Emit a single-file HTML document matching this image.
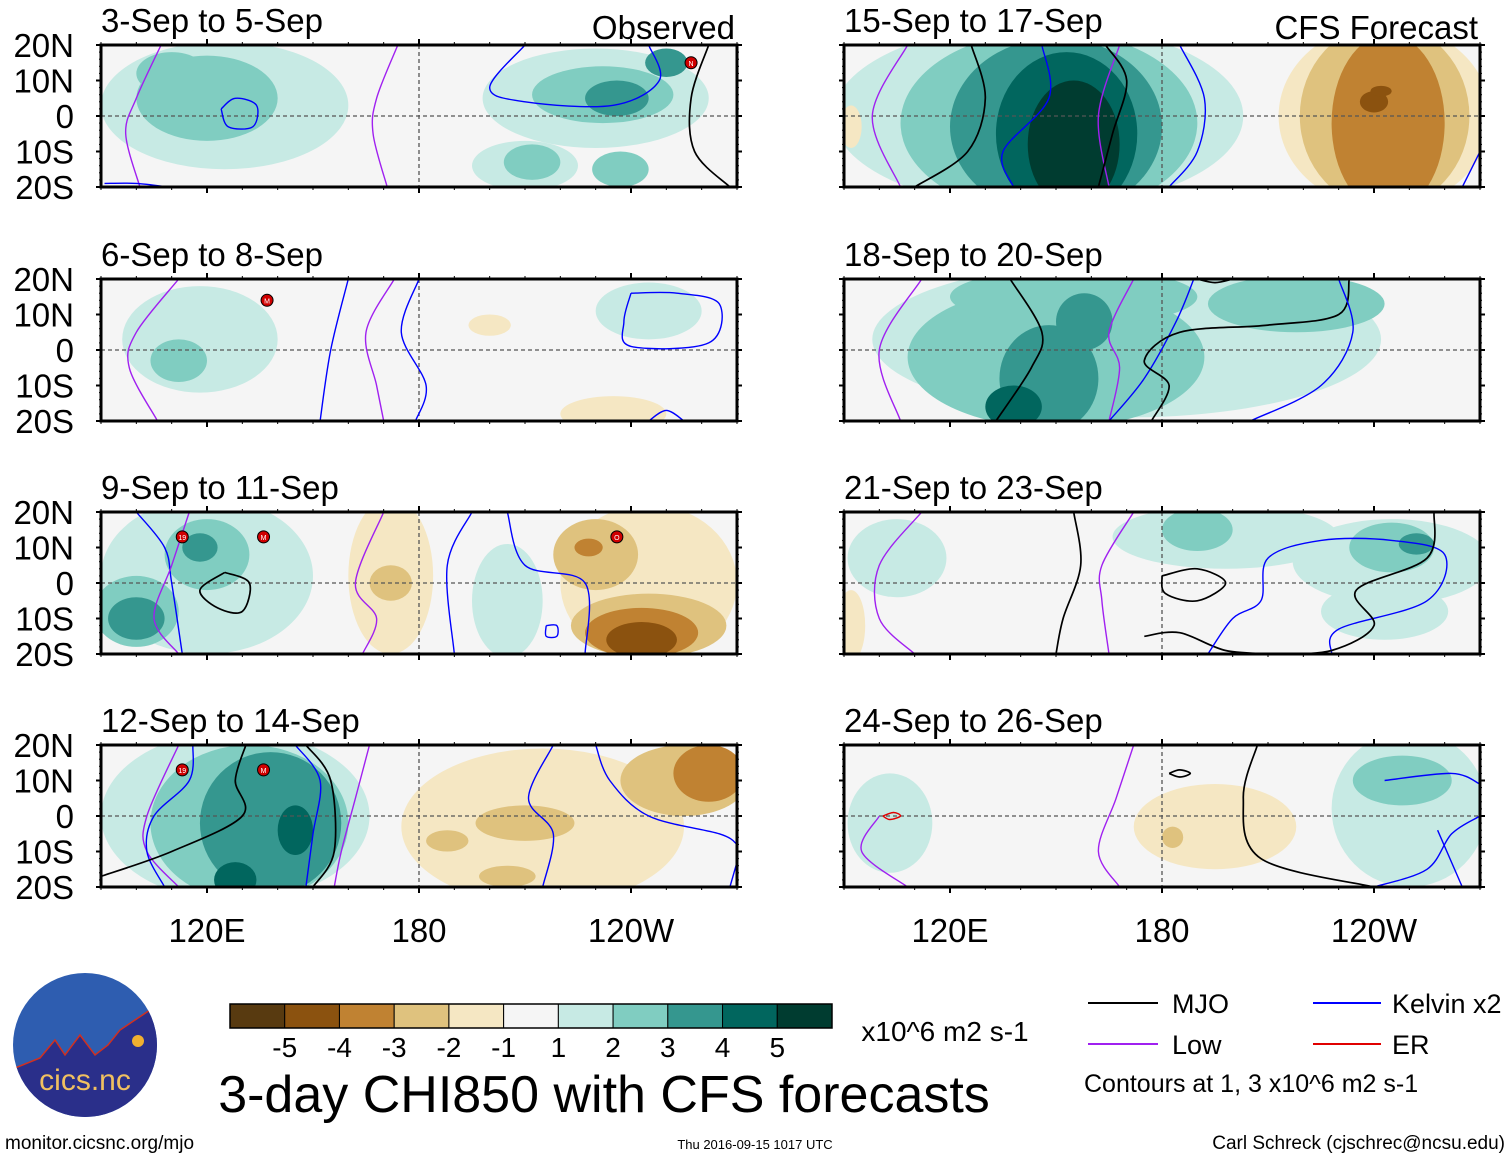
<!DOCTYPE html>
<html><head><meta charset="utf-8">
<style>
html,body{margin:0;padding:0;background:#fff;}
svg{display:block;font-family:"Liberation Sans",Arial,sans-serif;}
</style></head>
<body>
<svg id="fig" width="1510" height="1159" viewBox="0 0 1510 1159" xmlns="http://www.w3.org/2000/svg">
<defs><clipPath id="logoclip"><circle cx="85" cy="1045" r="72"/></clipPath></defs>
<g id="panels"></g>
<g id="legendarea">
  <g>
    <circle cx="85" cy="1045" r="72" fill="#2e5db0"/>
    <path clip-path="url(#logoclip)" d="M10,1070 L40,1058 L55,1040 L65,1055 L80,1035 L95,1055 L108,1045 L120,1030 L150,1010 L170,1000 L170,1130 L10,1130 Z" fill="#2a2f8a" stroke="#d03020" stroke-width="1.5"/>
    <circle cx="138" cy="1041" r="6" fill="#f0b030"/>
    <text x="85" y="1090" text-anchor="middle" font-size="30" fill="#f0c060">cics.nc</text>
  </g>
  <text x="5" y="1149" font-size="19">monitor.cicsnc.org/mjo</text>
  <text x="755" y="1149" font-size="13" text-anchor="middle">Thu 2016-09-15 1017 UTC</text>
  <text x="1505" y="1149" font-size="19" text-anchor="end">Carl Schreck (cjschrec@ncsu.edu)</text>
  <text x="604" y="1112" font-size="52" text-anchor="middle">3-day CHI850 with CFS forecasts</text>
  <text x="945" y="1041" font-size="28" text-anchor="middle">x10^6 m2 s-1</text>
  <g id="cbar"></g>
  <g>
    <line x1="1088" y1="1003" x2="1158" y2="1003" stroke="#000" stroke-width="2"/>
    <text x="1172" y="1013" font-size="27">MJO</text>
    <line x1="1313" y1="1003" x2="1381" y2="1003" stroke="#0000ff" stroke-width="2"/>
    <text x="1392" y="1013" font-size="27">Kelvin x2</text>
    <line x1="1088" y1="1044" x2="1158" y2="1044" stroke="#a020f0" stroke-width="2"/>
    <text x="1172" y="1054" font-size="27">Low</text>
    <line x1="1313" y1="1044" x2="1381" y2="1044" stroke="#e00000" stroke-width="2"/>
    <text x="1392" y="1054" font-size="27">ER</text>
    <text x="1084" y="1092" font-size="25">Contours at 1, 3 x10^6 m2 s-1</text>
  </g>
</g>
</svg>
<script>
const NS="http://www.w3.org/2000/svg";
const levelColors={"-6":"#583a10","-5":"#8b520f","-4":"#c08232","-3":"#dfc27e","-2":"#f5e7c3","1":"#c7eae4","2":"#80cdc1","3":"#35978f","4":"#01665e","5":"#003c30"};
const cbarColors=["#583a10","#8b520f","#c08232","#dfc27e","#f5e7c3","#f5f5f5","#c7eae4","#80cdc1","#35978f","#01665e","#003c30"];
const cbarLabels=["-5","-4","-3","-2","-1","1","2","3","4","5"];
const panelTitles=["3-Sep to 5-Sep","6-Sep to 8-Sep","9-Sep to 11-Sep","12-Sep to 14-Sep","15-Sep to 17-Sep","18-Sep to 20-Sep","21-Sep to 23-Sep","24-Sep to 26-Sep"];
const latTicks=["20N","10N","0","10S","20S"];
const lonTickLabels=["120E","180","120W"];
const lonTickValues=[120,180,240];
// blobs: [lon, lat, half-width deg, half-height deg, level]
const blobs1=[[125,3,35,18,1],[230,5,32,14,1],[210,-14,15,7,1],[120,5,20,12,2],[110,12,10,6,2],[232,6,20,8,2],[212,-13,8,5,2],[237,-15,8,5,2],[236,5,9,5,3],[250,15,6,4,3]];
const blobs2=[[118,3,22,15,1],[112,-3,8,6,2],[200,7,6,3,-2],[245,11,15,8,1],[235,-18,15,5,-2]];
const blobs3=[[120,2,30,22,1],[205,-5,10,16,1],[100,-8,12,10,2],[120,8,12,10,2],[100,-10,8,6,3],[118,10,5,4,3],[172,2,12,22,-2],[172,0,6,5,-3],[245,0,25,22,-2],[230,8,12,10,-3],[245,-12,22,9,-3],[243,-14,16,7,-4],[243,-16,10,5,-5],[228,10,4,2.5,-4]];
const blobs4=[[128,0,38,24,1],[132,-2,28,22,2],[138,-2,20,20,3],[145,-4,5,7,4],[128,-18,6,5,4],[215,-3,40,22,-2],[210,-2,14,5,-3],[188,-7,6,3,-3],[205,-17,8,3,-3],[255,10,18,10,-3],[262,12,10,8,-4]];
const blobs5=[[145,0,58,26,1],[148,-2,42,26,2],[150,-3,30,25,3],[153,-5,20,23,4],[155,-8,13,18,5],[243,0,30,26,-2],[243,0,24,26,-3],[244,-2,16,25,-4],[240,4,4,3,-5],[242,7,3,1.5,-5],[92,-3,3,6,-2]];
const blobs6=[[170,3,72,22,1],[150,-2,42,20,2],[155,15,35,8,2],[218,13,25,8,2],[148,-8,14,15,3],[158,8,8,8,3],[138,-16,8,6,4]];
const blobs7=[[198,13,32,9,1],[245,6,28,12,1],[243,-8,18,8,1],[105,7,14,11,1],[190,15,10,6,2],[245,10,12,7,2],[252,11,5,3,3],[92,-12,4,10,-2]];
const blobs8=[[103,-2,12,14,1],[195,-3,23,12,-2],[183,-6,3,3,-3],[250,2,22,22,1],[248,10,14,7,2]];
const allBlobs=[blobs1,blobs2,blobs3,blobs4,blobs5,blobs6,blobs7,blobs8];
// contour lines: [type, [[lon,lat],...]]
const lines1=[["low",[[107,20],[100,5],[97,-5],[101,-20]]],["low",[[174,20],[168,5],[167,-5],[171,-20]]],["kel",[[124,2],[128,5],[134,3],[133,-3],[126,-3],[124,2]]],["kel",[[210,20],[200,8],[210,4],[235,3],[248,10],[245,20]]],["mjo",[[262,20],[257,5],[258,-10],[268,-20]]],["kel",[[91,-19],[100,-19],[109,-20]]]];
const lines2=[["low",[[112,20],[100,5],[98,-5],[106,-20]]],["low",[[173,20],[165,5],[168,-10],[170,-20]]],["kel",[[160,20],[155,0],[152,-20]]],["kel",[[180,20],[175,5],[182,-10],[179,-20]]],["kel",[[240,16],[253,16],[265,13],[262,2],[240,1],[238,8],[240,16]]],["kel",[[245,-20],[250,-17],[255,-20]]]];
const lines3=[["kel",[[100,20],[108,10],[110,0],[113,-20]]],["low",[[115,20],[110,5],[105,-10],[112,-20]]],["mjo",[[125,3],[132,0],[130,-8],[123,-7],[118,-2],[125,3]]],["low",[[170,20],[162,0],[168,-10],[164,-20]]],["kel",[[195,20],[188,5],[190,-20]]],["kel",[[205,20],[210,5],[227,0],[227,-20]]],["kel",[[216,-12],[219,-12],[219,-15],[216,-15],[216,-12]]]];
const lines4=[["low",[[112,20],[103,0],[103,-10],[112,-20]]],["kel",[[116,20],[115,10],[105,0],[103,-10],[108,-20]]],["mjo",[[131,20],[128,10],[130,0],[110,-10],[90,-17]]],["mjo",[[148,20],[155,10],[156,-10],[150,-20]]],["kel",[[145,20],[152,10],[150,-5],[148,-20]]],["low",[[166,20],[162,5],[158,-10],[156,-20]]],["kel",[[218,20],[211,5],[218,-5],[215,-20]]],["kel",[[230,20],[234,10],[245,0],[265,-5],[270,-8]]],["kel",[[270,-13],[268,-20]]]];
const lines5=[["low",[[108,20],[98,0],[106,-20]]],["mjo",[[126,20],[130,5],[125,-10],[110,-20]]],["kel",[[146,20],[148,5],[135,-10],[138,-20]]],["low",[[168,20],[162,0],[165,-20]]],["mjo",[[164,20],[170,10],[166,-5],[162,-20]]],["kel",[[185,20],[192,5],[190,-10],[182,-20]]],["kel",[[270,-10],[265,-20]]]];
const lines6=[["low",[[112,20],[100,0],[106,-20]]],["mjo",[[137,20],[146,5],[143,-5],[133,-20]]],["low",[[172,20],[165,5],[168,-5],[165,-20]]],["kel",[[189,20],[184,8],[175,-8],[165,-20]]],["mjo",[[177,-20],[182,-10],[175,-3],[185,5],[210,7],[230,10],[233,20]]],["mjo",[[190,20],[195,19],[200,20]]],["kel",[[230,20],[234,5],[225,-10],[205,-20]]]];
const lines7=[["low",[[112,20],[100,5],[100,-10],[110,-20]]],["mjo",[[155,20],[157,5],[152,-10],[150,-20]]],["low",[[172,20],[163,5],[163,-5],[165,-20]]],["mjo",[[180,2],[190,4],[198,0],[190,-5],[181,-3],[180,2]]],["mjo",[[175,-15],[185,-14],[198,-19],[212,-20]]],["kel",[[193,-20],[200,-10],[208,-5],[210,7],[225,12],[245,12],[260,8],[255,-5],[230,-13],[228,-20]]],["mjo",[[257,20],[255,7],[235,-2],[240,-12],[228,-19],[212,-20]]]];
const lines8=[["low",[[100,0],[95,-10],[108,-20]]],["mjo",[[182,12],[185,13],[188,12],[185,11],[182,12]]],["low",[[172,20],[167,5],[162,-10],[168,-20]]],["mjo",[[207,20],[203,5],[208,-12],[240,-20]]],["kel",[[243,10],[262,12],[270,9]]],["kel",[[270,0],[262,-5],[255,-15],[240,-20]]],["kel",[[258,-4],[265,-20]]],["er",[[101,0],[104,1],[106,0],[103,-1],[101,0]]]];
const allLines=[lines1,lines2,lines3,lines4,lines5,lines6,lines7,lines8];
// storm markers: [lon, lat, label]
const storms1=[[257,15,"N"]];
const storms2=[[137,14,"M"]];
const storms3=[[113,13,"19"],[136,13,"M"],[236,13,"O"]];
const storms4=[[113,13,"19"],[136,13,"M"]];
const allStorms=[storms1,storms2,storms3,storms4,[],[],[],[]];

const lineColor={mjo:"#000",low:"#a020f0",kel:"#0000ff",er:"#e00000"};
const panelTops=[45,279,512,745];
const panelLefts=[101,844];
const PW=636, PH=142;
function mk(tag,attrs,parent){const e=document.createElementNS(NS,tag);for(const k in attrs)e.setAttribute(k,attrs[k]);if(parent)parent.appendChild(e);return e;}
function xs(x0,lon){return x0+(lon-90)*PW/180;}
function ys(y0,lat){return y0+(20-lat)*PH/40;}
function smooth(P){
  let d="M"+P[0][0].toFixed(1)+","+P[0][1].toFixed(1);
  for(let k=0;k<P.length-1;k++){
    const p0=P[Math.max(k-1,0)],p1=P[k],p2=P[k+1],p3=P[Math.min(k+2,P.length-1)];
    const c1=[p1[0]+(p2[0]-p0[0])/6,p1[1]+(p2[1]-p0[1])/6];
    const c2=[p2[0]-(p3[0]-p1[0])/6,p2[1]-(p3[1]-p1[1])/6];
    d+=" C"+c1[0].toFixed(1)+","+c1[1].toFixed(1)+" "+c2[0].toFixed(1)+","+c2[1].toFixed(1)+" "+p2[0].toFixed(1)+","+p2[1].toFixed(1);
  }
  return d;
}
const panels=document.getElementById("panels");
for(let i=0;i<8;i++){
  const col=i<4?0:1, row=i%4;
  const x0=panelLefts[col], y0=panelTops[row];
  const g=mk("g",{},panels);
  
  
  const title=mk("text",{x:x0,y:y0-13,"font-size":"33"},g);
  title.textContent=panelTitles[i];
  
  
  if(i===0||i===4){const t=mk("text",{x:x0+PW-2,y:y0-6,"font-size":"33","text-anchor":"end"},g);t.textContent=i===0?"Observed":"CFS Forecast";}
  const cid="clip"+i;
  const cp=mk("clipPath",{id:cid},g);mk("rect",{x:x0,y:y0,width:PW,height:PH},cp);
  const inner=mk("g",{"clip-path":"url(#"+cid+")"},g);
  mk("rect",{x:x0,y:y0,width:PW,height:PH,fill:"#f5f5f5"},inner);
  const bl=allBlobs[i].slice().sort((a,b)=>Math.abs(a[4])-Math.abs(b[4]));
  bl.forEach(b=>{
    const e=mk("ellipse",{cx:xs(x0,b[0]),cy:ys(y0,b[1]),rx:b[2]*PW/180,ry:b[3]*PH/40,fill:levelColors[String(b[4])]},inner);
    
    
  });
  mk("line",{x1:x0,y1:ys(y0,0),x2:x0+PW,y2:ys(y0,0),stroke:"#555","stroke-dasharray":"4,3","stroke-width":"1.3"},inner);
  mk("line",{x1:xs(x0,180),y1:y0,x2:xs(x0,180),y2:y0+PH,stroke:"#555","stroke-dasharray":"4,3","stroke-width":"1.3"},inner);
  allLines[i].forEach(l=>{
    const pts=l[1].map(p=>[xs(x0,p[0]),ys(y0,p[1])]);
    const p=mk("path",{d:smooth(pts),fill:"none",stroke:lineColor[l[0]],"stroke-width":l[0]==="mjo"?"1.7":"1.4","stroke-linejoin":"round"},inner);
    
    
  });
  allStorms[i].forEach(s=>{
    const c=mk("circle",{cx:xs(x0,s[0]),cy:ys(y0,s[1]),r:6,fill:"#d00000",stroke:"#000","stroke-width":"1"},inner);
    
    
    const t=mk("text",{x:xs(x0,s[0]),y:ys(y0,s[1])+3,"font-size":"7","text-anchor":"middle",fill:"#fff"},inner);t.textContent=s[2];
  });
  mk("rect",{x:x0,y:y0,width:PW,height:PH,fill:"none",stroke:"#000","stroke-width":"3"},g);
  for(let lon=90;lon<=270;lon+=10){
    const x=xs(x0,lon), big=(lon%60===0);
    mk("line",{x1:x,y1:y0,x2:x,y2:y0-(big?6:3),stroke:"#000","stroke-width":big?2:1},g);
    mk("line",{x1:x,y1:y0+PH,x2:x,y2:y0+PH+(big?6:3),stroke:"#000","stroke-width":big?2:1},g);
  }
  for(let lat=-20;lat<=20;lat+=2){
    const y=ys(y0,lat), big=(lat%10===0);
    mk("line",{x1:x0,y1:y,x2:x0-(big?5:2),y2:y,stroke:"#000","stroke-width":big?2:1},g);
    mk("line",{x1:x0+PW,y1:y,x2:x0+PW+(big?5:2),y2:y,stroke:"#000","stroke-width":big?2:1},g);
  }
  if(col===0){
    latTicks.forEach((lb,k)=>{const t=mk("text",{x:74,y:y0+k*PH/4+12,"font-size":"33","text-anchor":"end"},g);t.textContent=lb;});
  }
  if(row===3){
    lonTickLabels.forEach((lb,k)=>{const t=mk("text",{x:xs(x0,lonTickValues[k]),y:942,"font-size":"33","text-anchor":"middle"},g);t.textContent=lb;});
  }
}
const cb=document.getElementById("cbar");
const cbx=230, cbw=602/11;
cbarColors.forEach((c,k)=>{
  const r=mk("rect",{x:cbx+k*cbw,y:1004,width:cbw,height:24,fill:c,stroke:"#000","stroke-width":"1"},cb);
  
  
});
mk("rect",{x:cbx,y:1004,width:602,height:24,fill:"none",stroke:"#000","stroke-width":"1.5"},cb);
cbarLabels.forEach((lb,k)=>{const t=mk("text",{x:cbx+(k+1)*cbw,y:1057,"font-size":"28","text-anchor":"middle"},cb);t.textContent=lb;});
</script>
</body></html>
